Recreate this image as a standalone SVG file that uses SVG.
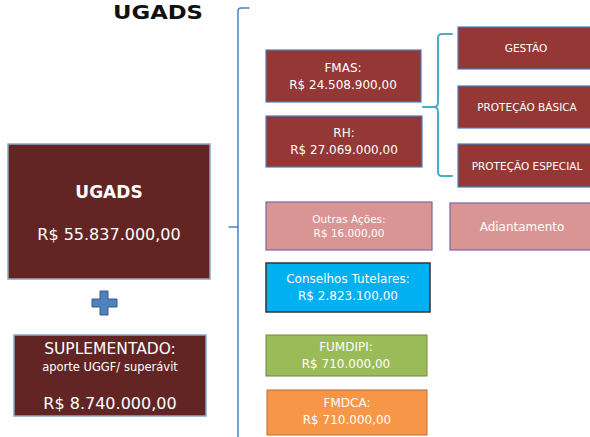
<svg xmlns="http://www.w3.org/2000/svg" width="590" height="437" viewBox="0 0 590 437">
<style>
text{font-family:"DejaVu Sans","Open Sans",sans-serif;fill:#fff;text-anchor:middle}
.dark{fill:#632523;stroke:#8EA6C8;stroke-width:1.5}
.red{fill:#953735;stroke:#4A7EBB;stroke-width:1.2}
.pink{fill:#D99594;stroke:#8064A2;stroke-width:1.2}
.t12{font-size:12px}
.t11{font-size:10.5px}
</style>
<rect width="590" height="437" fill="#fff"/>
<text x="158" y="19" textLength="90" lengthAdjust="spacingAndGlyphs" style="font-size:19px;font-weight:bold;fill:#111">UGADS</text>
<g id="connectors" fill="none" stroke-linecap="round" stroke-linejoin="round">
  <path d="M249,8 L241,8 Q238,8 238,11 L238,437" stroke="#4F81BD" stroke-width="1.5"/>
  <path d="M229,227 L238,227" stroke="#4F81BD" stroke-width="1.5"/>
  <path d="M452,34 L442,34 Q438,34 438,38 L438,102 Q438,107 434,107 L423,107 M434,107 Q438,107 438,112 L438,172 Q438,176 442,176 L452,176" stroke="#4BACC6" stroke-width="2"/>
</g>
<g id="ugads">
  <rect class="dark" x="8" y="144" width="202" height="135"/>
  <text x="109" y="198" style="font-size:17px;font-weight:bold">UGADS</text>
  <text x="109" y="240" style="font-size:16px">R$ 55.837.000,00</text>
</g>
<g id="plus">
  <path d="M100,291 H108 V299 H117 V307 H108 V315 H100 V307 H92 V299 H100 Z" fill="#4F81BD" stroke="#385D8A" stroke-width="1"/>
</g>
<g id="suplementado">
  <rect class="dark" x="14" y="335" width="192" height="81"/>
  <text x="110" y="354" style="font-size:15.5px">SUPLEMENTADO:</text>
  <text x="110" y="371" style="font-size:11.5px">aporte UGGF/ superávit</text>
  <text x="110" y="409" style="font-size:16px">R$ 8.740.000,00</text>
</g>
<g id="fmas">
  <rect class="red" x="266" y="50" width="155" height="52"/>
  <text class="t12" x="343" y="72">FMAS:</text>
  <text class="t12" x="343" y="89">R$ 24.508.900,00</text>
</g>
<g id="rh">
  <rect class="red" x="266" y="116" width="156" height="51"/>
  <text class="t12" x="344" y="137">RH:</text>
  <text class="t12" x="344" y="154">R$ 27.069.000,00</text>
</g>
<g id="gestao">
  <rect class="red" x="458" y="27" width="140" height="42"/>
  <text class="t11" x="526" y="52">GESTÃO</text>
</g>
<g id="basica">
  <rect class="red" x="458" y="86" width="140" height="42"/>
  <text class="t11" x="527" y="111">PROTEÇÃO BÁSICA</text>
</g>
<g id="especial">
  <rect class="red" x="458" y="144" width="140" height="43"/>
  <text class="t11" x="527" y="170">PROTEÇÃO ESPECIAL</text>
</g>
<g id="outras">
  <rect class="pink" x="266" y="202" width="166" height="48"/>
  <text x="349" y="223" style="font-size:10.5px">Outras Ações:</text>
  <text x="349" y="237" style="font-size:10.5px">R$ 16.000,00</text>
</g>
<g id="adiantamento">
  <rect class="pink" x="450" y="203" width="145" height="47"/>
  <text x="522" y="231" style="font-size:12px">Adiantamento</text>
</g>
<g id="conselhos">
  <rect x="266" y="263" width="164" height="49" fill="#00B0F0" stroke="#333" stroke-width="1.5"/>
  <text class="t12" x="348" y="283">Conselhos Tutelares:</text>
  <text class="t12" x="348" y="300">R$ 2.823.100,00</text>
</g>
<g id="fumdipi">
  <rect x="266" y="335" width="161" height="41" fill="#9BBB59" stroke="#71893F" stroke-width="1"/>
  <text class="t12" x="346" y="351">FUMDIPI:</text>
  <text class="t12" x="346" y="368">R$ 710.000,00</text>
</g>
<g id="fmdca">
  <rect x="267" y="390" width="160" height="45" fill="#F79646" stroke="#B66D31" stroke-width="1"/>
  <text class="t12" x="347" y="407">FMDCA:</text>
  <text class="t12" x="347" y="424">R$ 710.000,00</text>
</g>
</svg>
